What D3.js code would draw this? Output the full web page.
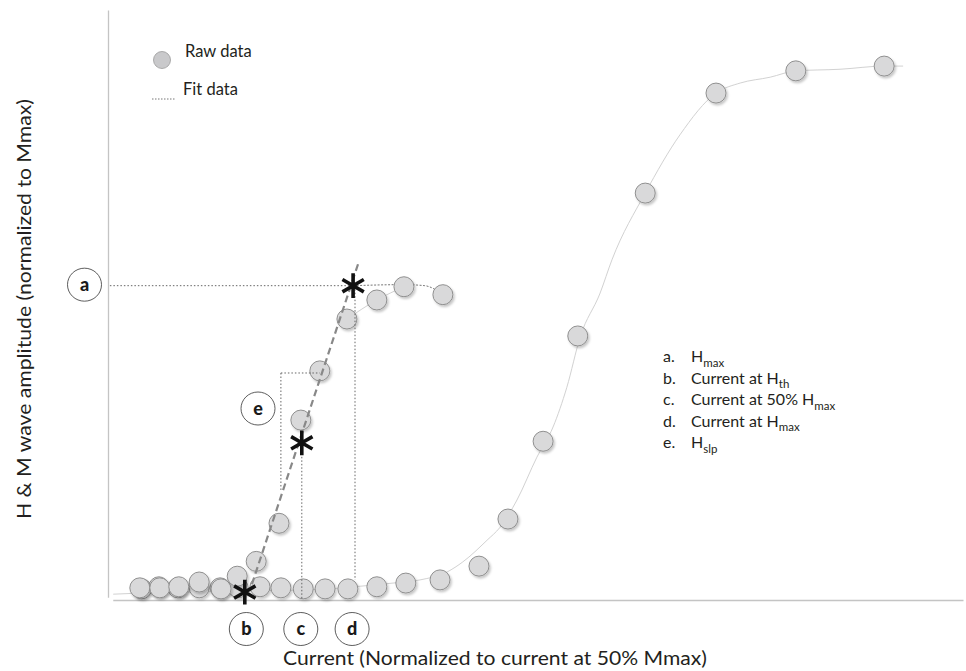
<!DOCTYPE html>
<html><head><meta charset="utf-8">
<script src="https://cdn.jsdelivr.net/npm/d3@7"></script>
<style>
html,body{margin:0;padding:0;background:#fff;}
svg{display:block;font-family:Lato,'Open Sans',sans-serif;}
</style></head>
<body><svg id="chart" width="966" height="671"></svg>
<script>
// ---- data (x: current normalized to current at 50% Mmax; y: amplitude normalized to Mmax)
const hRawX = [0.067,0.109,0.149,0.192,0.238,0.272,0.312,0.360,0.406,0.446,0.503,0.566,0.623,0.705];
const hRawY = [0.013,0.013,0.015,0.024,0.011,0.035,0.063,0.135,0.330,0.423,0.521,0.557,0.582,0.567];
const mRawX = [0.071,0.107,0.147,0.192,0.236,0.274,0.320,0.364,0.411,0.457,0.505,0.566,0.627,0.699,0.781,0.842,0.916,0.989,1.131,1.280,1.448,1.634];
const mRawY = [0.011,0.015,0.013,0.013,0.013,0.013,0.015,0.013,0.011,0.011,0.011,0.015,0.022,0.028,0.054,0.143,0.290,0.489,0.759,0.948,0.990,0.999];
const mFitX = [0.011,0.067,0.299,0.467,0.531,0.600,0.657,0.714,0.747,0.798,0.825,0.861,0.903,0.937,0.966,0.994,1.036,1.061,1.131,1.204,1.280,1.331,1.394,1.448,1.541,1.634,1.674];
const mFitY = [0.001,0.003,0.007,0.011,0.016,0.022,0.028,0.043,0.062,0.103,0.127,0.179,0.260,0.317,0.392,0.487,0.570,0.633,0.759,0.869,0.948,0.967,0.978,0.990,0.993,0.999,0.999];
const hFitSolidX = [0.503,0.566,0.623];
const hFitSolidY = [0.521,0.557,0.582];
const hFitDotX = [0.516,0.623,0.667,0.705];
const hFitDotY = [0.584,0.586,0.584,0.567];
// key points b (threshold), c (50% Hmax), d (Hmax)
const keyNames = ["b","c","d"];
const keyX = [0.288,0.408,0.516];
const keyY = [0.005,0.287,0.584];
const hMax = 0.584;
const slopeX = [0.303,0.528];
const slopeY = [0.020,0.629];
const eBracketX = [0.364,0.446];
const eBracketY = [0.198,0.419];
const legendKeys = ["a.","b.","c.","d.","e."];
const legendMain = ["H","Current at H","Current at 50% H","Current at H","H"];
const legendSub = ["max","th","max","max","slp"];
const xTitle = "Current (Normalized to current at 50% Mmax)";
const yTitle = "H & M wave amplitude (normalized to Mmax)";

const svg = d3.select("#chart");
const x = d3.scaleLinear().domain([0,1.8]).range([108,963]);
const y = d3.scaleLinear().domain([-0.01,1.105]).range([600,10]);

const defs = svg.append("defs");
const f = defs.append("filter").attr("id","sh").attr("x","-50%").attr("y","-50%").attr("width","200%").attr("height","200%");
f.append("feDropShadow").attr("dx",1.5).attr("dy",2).attr("stdDeviation",1).attr("flood-color","#000").attr("flood-opacity",0.22);

// axes (no ticks)
const xa = d3.scaleLinear().domain([0.01,1.8]).range([x(0.01),x(1.8)]);
svg.append("g").attr("transform",`translate(0,${y(-0.01)})`)
  .call(d3.axisBottom(xa).tickValues([]).tickSizeOuter(0))
  .call(g=>g.select(".domain").attr("stroke","#c4c4c4").attr("stroke-width",1.3));
const ya = d3.scaleLinear().domain([-0.005,1.105]).range([y(-0.005),y(1.105)]);
svg.append("g").attr("transform",`translate(${x(0)},0)`)
  .call(d3.axisLeft(ya).tickValues([]).tickSizeOuter(0))
  .call(g=>g.select(".domain").attr("stroke","#c4c4c4").attr("stroke-width",1.3));

const zip = (a,b)=>a.map((v,i)=>[v,b[i]]);
const curve = d3.line().x(d=>x(d[0])).y(d=>y(d[1])).curve(d3.curveMonotoneX);
const straight = d3.line().x(d=>x(d[0])).y(d=>y(d[1]));

// M fit
svg.append("path").datum(zip(mFitX,mFitY)).attr("fill","none").attr("stroke","#d2d2d2").attr("stroke-width",1)
  .attr("d",curve);
// H fit
svg.append("path").datum(zip(hFitSolidX,hFitSolidY)).attr("fill","none").attr("stroke","#d2d2d2").attr("stroke-width",1)
  .attr("d",curve);
svg.append("path").datum(zip(hFitDotX,hFitDotY)).attr("fill","none").attr("stroke","#777").attr("stroke-width",1)
  .attr("stroke-dasharray","2,1.5").attr("d",curve);

// raw circles
const raw = zip(mRawX,mRawY).concat(zip(hRawX,hRawY));
svg.append("g").selectAll("circle").data(raw).join("circle")
  .attr("cx",d=>x(d[0])).attr("cy",d=>y(d[1])).attr("r",10)
  .attr("fill","#d9d9da").attr("stroke","#8f8f8f").attr("stroke-width",1).attr("filter","url(#sh)");

// reference dotted lines
const dot = (x1,y1,x2,y2)=>svg.append("line").attr("x1",x(x1)).attr("y1",y(y1)).attr("x2",x(x2)).attr("y2",y(y2))
  .attr("stroke","#666").attr("stroke-width",1).attr("stroke-dasharray","1.5,2");
dot(0.004,hMax,keyX[2],hMax);
dot(keyX[1],keyY[1],keyX[1],-0.01);
dot(keyX[2]+0.004,keyY[2],keyX[2]+0.004,0.028);
dot(eBracketX[0],eBracketY[1],eBracketX[1],eBracketY[1]);
dot(eBracketX[0],eBracketY[1],eBracketX[0],eBracketY[0]);

// slope dashed line
svg.append("path").datum(zip(slopeX,slopeY)).attr("fill","none").attr("stroke","#888").attr("stroke-width",2.2)
  .attr("stroke-dasharray","7,4").attr("d",straight);

// asterisks
svg.append("g").selectAll("path").data(zip(keyX,keyY)).join("path")
  .attr("transform",d=>`translate(${x(d[0])},${y(d[1])})`)
  .attr("d",d3.symbol(d3.symbolAsterisk,430)())
  .attr("fill","none").attr("stroke","#111").attr("stroke-width",3.6);

// label ellipses
function bubble(cx,cy,t){
  const g=svg.append("g").attr("transform",`translate(${cx},${cy})`);
  g.append("ellipse").attr("rx",17).attr("ry",16.5).attr("fill","#fff").attr("stroke","#333").attr("stroke-width",0.8);
  g.append("text").attr("text-anchor","middle").attr("dy","0.34em").attr("font-size",18).attr("font-weight","900").attr("fill","#1a1a1a").text(t);
}
bubble(84.5,y(hMax)-1,"a");
keyNames.forEach((n,i)=>bubble(x(keyX[i])+(i===0?1.5:-1),629,n));
bubble(258,408.5,"e");

// top-left legend
svg.append("circle").attr("cx",162).attr("cy",60).attr("r",8.5).attr("fill","#c9c9cb").attr("stroke","#9a9a9a").attr("stroke-width",0.8);
svg.append("text").attr("x",185).attr("y",57).attr("font-size",16.5).attr("fill","#231f20").text("Raw data");
svg.append("line").attr("x1",152).attr("x2",176).attr("y1",99).attr("y2",99).attr("stroke","#777").attr("stroke-width",1).attr("stroke-dasharray","1.5,1.5");
svg.append("text").attr("x",183).attr("y",95).attr("font-size",16.5).attr("fill","#231f20").text("Fit data");

// right legend
const lg = svg.append("g");
legendKeys.forEach((k,i)=>{
  const by = 362 + i*21.5;
  lg.append("text").attr("x",663).attr("y",by).attr("font-size",16).attr("fill","#231f20").text(k);
  const t = lg.append("text").attr("x",691).attr("y",by).attr("font-size",16).attr("fill","#231f20");
  t.append("tspan").text(legendMain[i]);
  t.append("tspan").attr("dy",4.5).attr("font-size",11.5).text(legendSub[i]);
});

// axis titles
svg.append("text").attr("x",495).attr("y",665).attr("text-anchor","middle").attr("font-size",19.5)
  .attr("fill","#231f20").attr("textLength",424).attr("lengthAdjust","spacingAndGlyphs").text(xTitle);
svg.append("text").attr("transform","translate(31,309) rotate(-90)").attr("text-anchor","middle").attr("font-size",19.5)
  .attr("fill","#231f20").attr("textLength",420).attr("lengthAdjust","spacingAndGlyphs").text(yTitle);
</script></body></html>
